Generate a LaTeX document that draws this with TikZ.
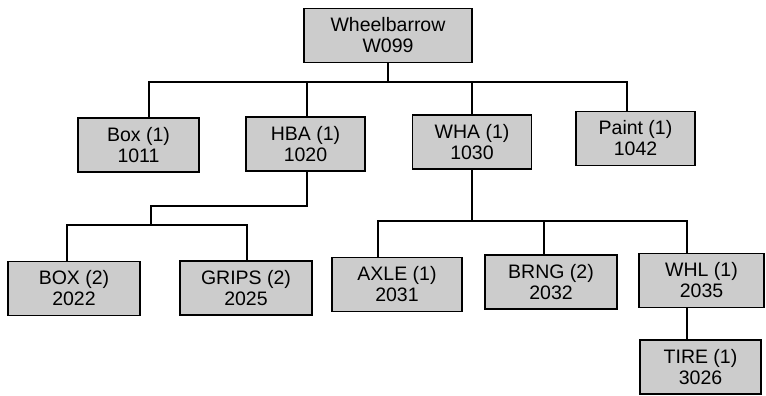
\documentclass[tikz,border=0pt]{standalone}
\usepackage{fontspec}
\setmainfont{Liberation Sans}
\usepackage{tikz}
\usetikzlibrary{calc}
\tikzset{
  bom part/.style={draw=black, fill=gray!40, line width=1.4pt, align=center,
    font=\fontsize{19.5}{21}\selectfont, inner sep=0pt, minimum height=54pt},
  bom link/.style={draw=black, line width=1.3pt},
}

\begin{document}
\begin{tikzpicture}[x=1pt, y=-1pt]
 \useasboundingbox (0,0) rectangle (766,396);
 % level 0
 \node[bom part, minimum width=168pt] (W099) at (388,35.5) {Wheelbarrow\\W099};
 % level 1
 \node[bom part, minimum width=121pt] (B1011) at (138.5,145) {Box (1)\\1011};
 \node[bom part, minimum width=119pt] (H1020) at (305.5,144) {HBA (1)\\1020};
 \node[bom part, minimum width=119pt] (W1030) at (472,142) {WHA (1)\\1030};
 \node[bom part, minimum width=119pt] (P1042) at (635.5,138.5) {Paint (1)\\1042};
 % level 2
 \node[bom part, minimum width=132pt] (B2022) at (74,288.5) {BOX (2)\\2022};
 \node[bom part, minimum width=132pt] (G2025) at (246,288) {GRIPS (2)\\2025};
 \node[bom part, minimum width=130pt] (A2031) at (397,284.5) {AXLE (1)\\2031};
 \node[bom part, minimum width=132pt] (B2032) at (551,282) {BRNG (2)\\2032};
 \node[bom part, minimum width=125pt] (W2035) at (701.5,280.5) {WHL (1)\\2035};
 % level 3
 \node[bom part, minimum width=121pt] (T3026) at (700.5,367) {TIRE (1)\\3026};

 \coordinate (top bus) at (388,82);
 \coordinate (hba knee) at (151,206);
 \coordinate (hba bus) at (151,225);
 \coordinate (wha bus) at (472,221);

 \draw[bom link] (W099.south) -- (top bus);
 \draw[bom link] (top bus) -| ([xshift=10.5pt]B1011.north);
 \draw[bom link] (top bus) -| ([xshift=1.5pt]H1020.north);
 \draw[bom link] (top bus) -| (W1030.north);
 \draw[bom link] (top bus) -| ([xshift=-8.5pt]P1042.north);

 \draw[bom link] ([xshift=1.5pt]H1020.south) |- (hba knee) -- (hba bus);
 \draw[bom link] (hba bus) -| ([xshift=-7pt]B2022.north);
 \draw[bom link] (hba bus) -| ([xshift=1pt]G2025.north);

 \draw[bom link] (W1030.south) -- (wha bus);
 \draw[bom link] (wha bus) -| ([xshift=-19pt]A2031.north);
 \draw[bom link] (wha bus) -| ([xshift=-7pt]B2032.north);
 \draw[bom link] (wha bus) -| ([xshift=-14.5pt]W2035.north);

 \draw[bom link] ([xshift=-14.5pt]W2035.south) -- ([xshift=-14.5pt]W2035.south |- T3026.north);
\end{tikzpicture}
\end{document}
